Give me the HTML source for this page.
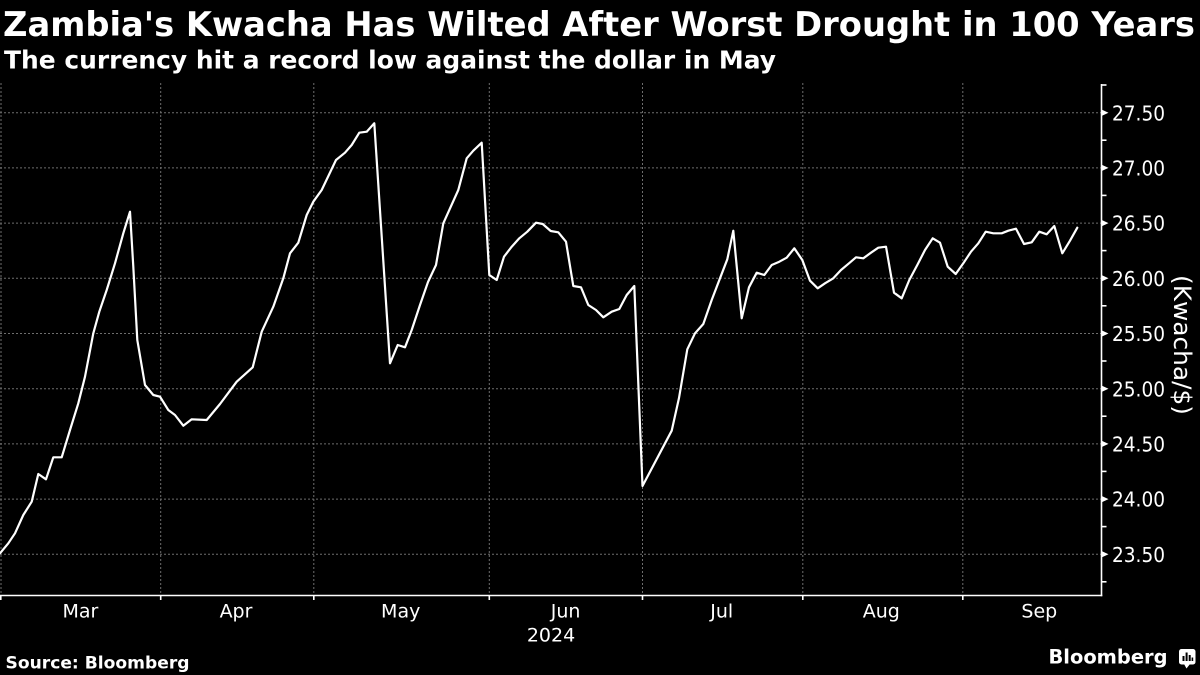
<!DOCTYPE html>
<html><head><meta charset="utf-8"><style>
html,body{margin:0;padding:0;background:#000;}
svg{display:block;}
</style></head><body>
<svg width="1200" height="675" viewBox="0 0 1200 675" xmlns="http://www.w3.org/2000/svg">
<rect width="1200" height="675" fill="#000"/>
<text x="3" y="36" fill="#fff" font-family="DejaVu Sans, Liberation Sans, sans-serif" font-weight="bold" font-size="33.5" textLength="1192" lengthAdjust="spacingAndGlyphs">Zambia's Kwacha Has Wilted After Worst Drought in 100 Years</text>
<text x="4" y="68.3" fill="#fff" font-family="DejaVu Sans, Liberation Sans, sans-serif" font-weight="bold" font-size="25" textLength="772" lengthAdjust="spacingAndGlyphs">The currency hit a record low against the dollar in May</text>

<g stroke="#6e6e6e" stroke-width="1" stroke-dasharray="2 2" fill="none">
<line x1="0" y1="112.7" x2="1101" y2="112.7"/>
<line x1="0" y1="167.9" x2="1101" y2="167.9"/>
<line x1="0" y1="223.1" x2="1101" y2="223.1"/>
<line x1="0" y1="278.3" x2="1101" y2="278.3"/>
<line x1="0" y1="333.5" x2="1101" y2="333.5"/>
<line x1="0" y1="388.7" x2="1101" y2="388.7"/>
<line x1="0" y1="443.9" x2="1101" y2="443.9"/>
<line x1="0" y1="499.1" x2="1101" y2="499.1"/>
<line x1="0" y1="554.3" x2="1101" y2="554.3"/>
<line x1="1" y1="83" x2="1" y2="595"/>
<line x1="160.7" y1="83" x2="160.7" y2="595"/>
<line x1="313.8" y1="83" x2="313.8" y2="595"/>
<line x1="489.3" y1="83" x2="489.3" y2="595"/>
<line x1="642.5" y1="83" x2="642.5" y2="595"/>
<line x1="802.8" y1="83" x2="802.8" y2="595"/>
<line x1="962.8" y1="83" x2="962.8" y2="595"/>
</g>

<polyline fill="none" stroke="#fff" stroke-width="2.2" stroke-linejoin="round" stroke-linecap="round" points="0,553.3 8.3,543.3 15,533.3 23.3,515 31.7,501.7 38.3,474 46,479.3 53.3,457.3 61.7,457.3 70,430 78.3,403.3 85,376.7 93.3,333.3 99.3,311.7 106.7,290 115,263.3 123.3,233.3 130,211.7 133.3,266.7 137.3,340 145,385 153.3,395 160,396.7 168.3,410 175,415 183.3,425.7 191.7,419.3 206.7,420 220,404 236.7,381.7 252.7,367.3 261.7,331.7 273.3,306.7 283.3,278.3 290,253.3 298.3,242.7 306.7,215 313.3,201.7 321.7,190 336,160 345,152.7 351.7,145 359.3,132.7 366.7,131.7 374.3,123.3 390,363.3 397.7,345 405,347.3 411.7,330 420,305 428,282 436,265 443.3,223.3 458.3,190 466.7,158.3 473.3,150.7 481.7,142.7 489.3,275 496.7,280 504,256.7 511.7,246.7 519.3,238.3 527.3,231.7 536,222.7 542.7,224 550.7,231 558.3,232.3 566,241.7 573.3,286 581,287.3 588.3,305 596,310 603.3,317.3 611.7,311.7 619.3,309 626.7,295 634.3,286 642.5,486 671.7,430.7 679,398 687.3,349.3 695,333.3 703.3,324 711.7,300 720,278.3 727.3,259.3 733.3,230.7 741.7,318.3 749,287.3 756.7,272.7 764.3,275 771.7,265 779.3,261.7 786.7,257.7 794.3,248.3 802.3,260 810,280.7 817.7,288.3 825,283.3 833.3,278.3 841,270 849,263.3 856,257.3 863.3,258.3 871,252.7 878.3,247.7 886,246.7 894,292.7 901.7,298.3 909.3,280 917.3,265 925,250 932.7,238.3 940,242.7 947.7,266.7 955.7,274 963.3,263.3 971,251.7 978.3,243.3 985.7,231.7 993.3,233.3 1001.7,233.3 1008.3,230.7 1016,228.7 1024,244 1031.7,242.3 1039.3,231.7 1046.7,234.3 1054.3,226 1062.3,253.3 1070,240.7 1077.3,227.7"/>

<!-- axes -->
<g stroke="#fff" stroke-width="1.6" fill="none">
<line x1="0" y1="595.5" x2="1102.3" y2="595.5"/>
<line x1="1101.5" y1="84" x2="1101.5" y2="596.3"/>
<line x1="0.8" y1="595" x2="0.8" y2="600"/>
<line x1="160.7" y1="595" x2="160.7" y2="600"/>
<line x1="313.8" y1="595" x2="313.8" y2="600"/>
<line x1="489.3" y1="595" x2="489.3" y2="600"/>
<line x1="642.5" y1="595" x2="642.5" y2="600"/>
<line x1="802.8" y1="595" x2="802.8" y2="600"/>
<line x1="962.8" y1="595" x2="962.8" y2="600"/>
<line x1="1101.5" y1="85" x2="1106.5" y2="85"/>
<line x1="1101.5" y1="140.2" x2="1106.5" y2="140.2"/>
<line x1="1101.5" y1="195.4" x2="1106.5" y2="195.4"/>
<line x1="1101.5" y1="250.6" x2="1106.5" y2="250.6"/>
<line x1="1101.5" y1="305.8" x2="1106.5" y2="305.8"/>
<line x1="1101.5" y1="361" x2="1106.5" y2="361"/>
<line x1="1101.5" y1="416.2" x2="1106.5" y2="416.2"/>
<line x1="1101.5" y1="471.4" x2="1106.5" y2="471.4"/>
<line x1="1101.5" y1="526.6" x2="1106.5" y2="526.6"/>
<line x1="1101.5" y1="581.8" x2="1106.5" y2="581.8"/>
</g>
<g fill="#fff">
<polygon points="1102,109.7 1108.5,112.7 1102,115.7"/>
<polygon points="1102,164.9 1108.5,167.9 1102,170.9"/>
<polygon points="1102,220.1 1108.5,223.1 1102,226.1"/>
<polygon points="1102,275.3 1108.5,278.3 1102,281.3"/>
<polygon points="1102,330.5 1108.5,333.5 1102,336.5"/>
<polygon points="1102,385.7 1108.5,388.7 1102,391.7"/>
<polygon points="1102,440.9 1108.5,443.9 1102,446.9"/>
<polygon points="1102,496.1 1108.5,499.1 1102,502.1"/>
<polygon points="1102,551.3 1108.5,554.3 1102,557.3"/>
</g>

<g fill="#fff" font-family="DejaVu Sans, Liberation Sans, sans-serif" font-size="20.5">
<text x="1112" y="120.3" textLength="53" lengthAdjust="spacingAndGlyphs">27.50</text>
<text x="1112" y="175.5" textLength="53" lengthAdjust="spacingAndGlyphs">27.00</text>
<text x="1112" y="230.7" textLength="53" lengthAdjust="spacingAndGlyphs">26.50</text>
<text x="1112" y="285.9" textLength="53" lengthAdjust="spacingAndGlyphs">26.00</text>
<text x="1112" y="341.1" textLength="53" lengthAdjust="spacingAndGlyphs">25.50</text>
<text x="1112" y="396.3" textLength="53" lengthAdjust="spacingAndGlyphs">25.00</text>
<text x="1112" y="451.5" textLength="53" lengthAdjust="spacingAndGlyphs">24.50</text>
<text x="1112" y="506.7" textLength="53" lengthAdjust="spacingAndGlyphs">24.00</text>
<text x="1112" y="561.9" textLength="53" lengthAdjust="spacingAndGlyphs">23.50</text>
</g>
<text transform="translate(1174,345) rotate(90)" text-anchor="middle" fill="#fff" font-family="DejaVu Sans, Liberation Sans, sans-serif" font-size="24" textLength="140" lengthAdjust="spacingAndGlyphs">(Kwacha/$)</text>

<g fill="#fff" font-family="DejaVu Sans, Liberation Sans, sans-serif" font-size="19" text-anchor="middle">
<text x="80.4" y="617.3">Mar</text>
<text x="236" y="617.3">Apr</text>
<text x="400.7" y="617.3">May</text>
<text x="565.6" y="617.3">Jun</text>
<text x="721.7" y="617.3">Jul</text>
<text x="881.3" y="617.3">Aug</text>
<text x="1039.3" y="617.3">Sep</text>
<text x="551" y="641.7">2024</text>
</g>

<text x="5.5" y="668.3" fill="#fff" font-family="DejaVu Sans, Liberation Sans, sans-serif" font-weight="bold" font-size="17" textLength="184" lengthAdjust="spacingAndGlyphs">Source: Bloomberg</text>
<text x="1048.5" y="663.5" fill="#fff" font-family="DejaVu Sans, Liberation Sans, sans-serif" font-weight="bold" font-size="19.5" textLength="119" lengthAdjust="spacingAndGlyphs">Bloomberg</text>
<g>
<rect x="1179" y="649" width="16.5" height="15.5" rx="2.5" fill="#fff"/>
<polygon points="1184,664 1190,664 1186.5,668.5" fill="#fff"/>
<rect x="1182.5" y="656" width="2" height="5" fill="#000"/>
<rect x="1185.6" y="652.5" width="2" height="8.5" fill="#000"/>
<rect x="1188.7" y="655" width="2" height="6" fill="#000"/>
<rect x="1191.6" y="657.5" width="1.6" height="3.5" fill="#000"/>
</g>
</svg>
</body></html>
